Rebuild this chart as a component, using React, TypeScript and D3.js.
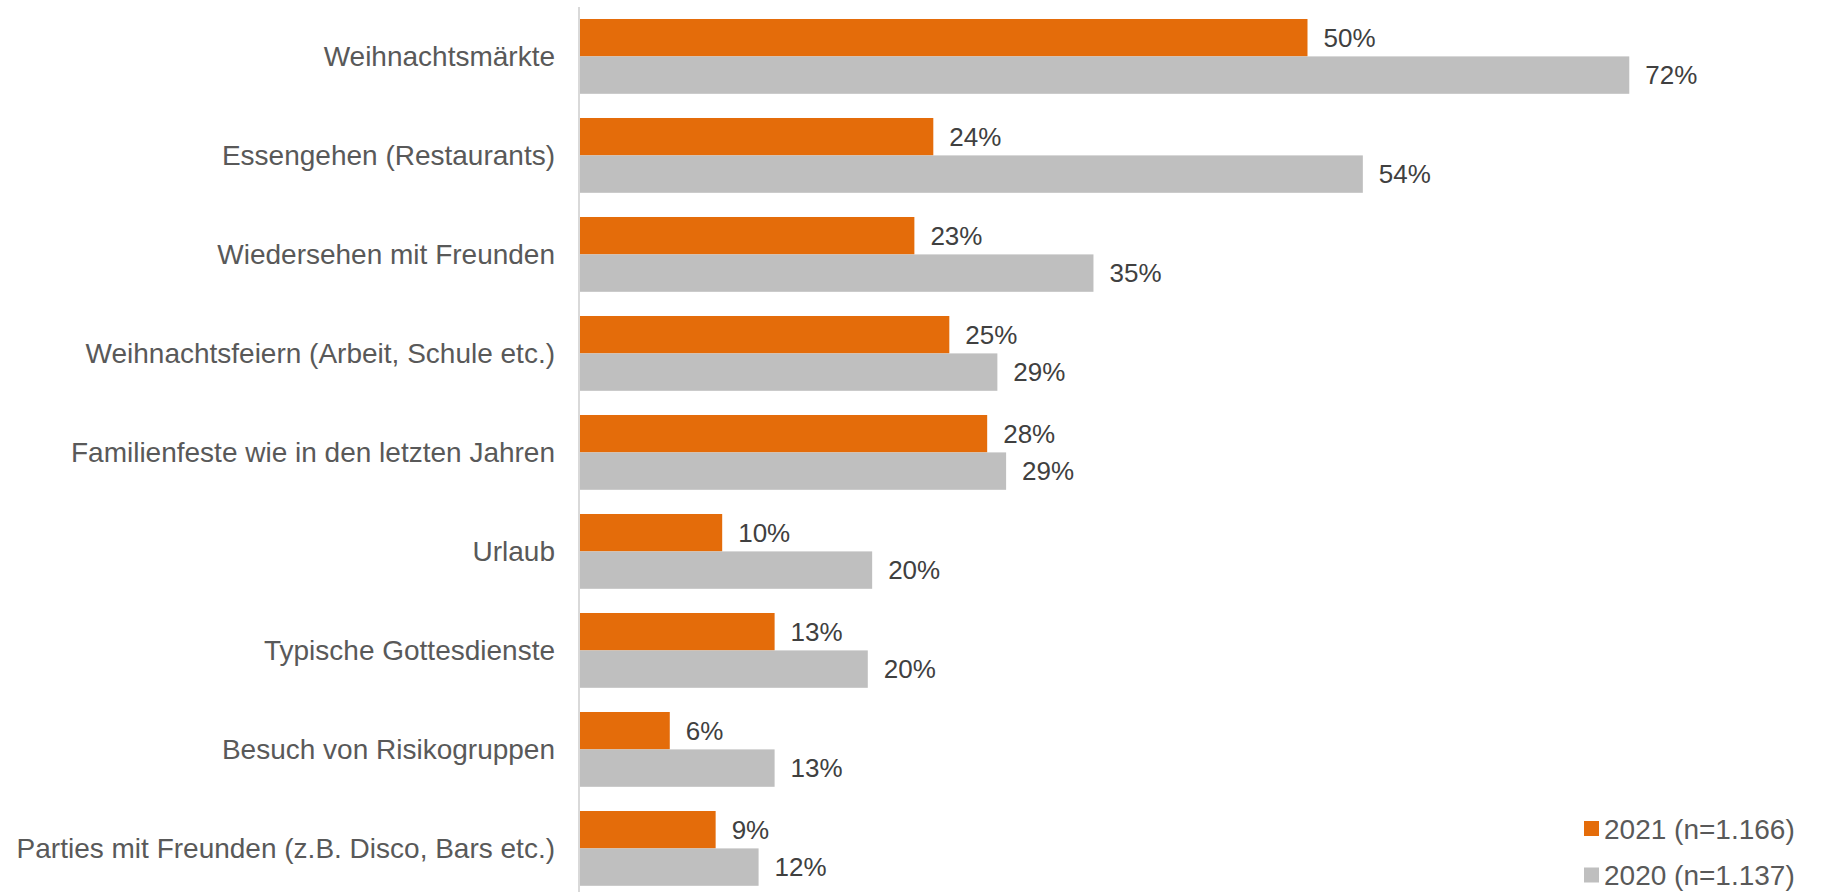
import React from "react";
import * as d3 from "d3";

const categories = [
  "Weihnachtsmärkte",
  "Essengehen (Restaurants)",
  "Wiedersehen mit Freunden",
  "Weihnachtsfeiern (Arbeit, Schule etc.)",
  "Familienfeste wie in den letzten Jahren",
  "Urlaub",
  "Typische Gottesdienste",
  "Besuch von Risikogruppen",
  "Parties mit Freunden (z.B. Disco, Bars etc.)",
];

const values2021 = [50.0, 24.3, 23.0, 25.4, 28.0, 9.8, 13.4, 6.2, 9.35];
const values2020 = [72.1, 53.8, 35.3, 28.7, 29.3, 20.1, 19.8, 13.4, 12.3];

const seriesNames = ["2021 (n=1.166)", "2020 (n=1.137)"];
const seriesKeys = ["2021", "2020"];
const seriesColors = ["#E46C0A", "#BFBFBF"];

const W = 1822;
const H = 892;
const FONT = "'Liberation Sans', Arial, Helvetica, sans-serif";

export default function App() {
  const x = d3.scaleLinear().domain([0, 80]).range([579.5, 579.5 + 80 * 14.56]);
  const y = d3
    .scaleBand<string>()
    .domain(categories)
    .range([6.9, 897.9])
    .paddingInner(0.2444)
    .paddingOuter(0.1222);
  const ySub = d3.scaleBand<string>().domain(seriesKeys).range([0, y.bandwidth()]).padding(0);
  const series = [values2021, values2020];

  return (
    <svg
      width={W}
      height={H}
      style={{ position: "fixed", left: 0, top: 0, background: "#fff" }}
      fontFamily={FONT}
    >
      {categories.map((c, i) => {
        const y0 = y(c)!;
        return (
          <g key={c}>
            {series.map((vals, s) => {
              const by = y0 + ySub(seriesKeys[s])!;
              const bh = ySub.bandwidth();
              const xe = x(vals[i]);
              return (
                <g key={s}>
                  <rect x={x(0)} y={by} width={xe - x(0)} height={bh} fill={seriesColors[s]} />
                  <text
                    x={xe + 16}
                    y={by + bh / 2 + 9.3}
                    fontSize={26}
                    fill="#404040"
                  >
                    {d3.format(".0f")(Math.round(vals[i]))}%
                  </text>
                </g>
              );
            })}
            <text
              x={555}
              y={y0 + y.bandwidth() / 2 + 10}
              fontSize={28}
              textAnchor="end"
              fill="#595959"
            >
              {c}
            </text>
          </g>
        );
      })}
      <line x1={579} x2={579} y1={7} y2={H} stroke="#D9D9D9" strokeWidth={2} />
      {seriesNames.map((n, s) => (
        <g key={n} transform={`translate(1584, ${821 + s * 46.5})`}>
          <rect x={0} y={0} width={15} height={15} fill={seriesColors[s]} />
          <text x={20} y={17.5} fontSize={28} fill="#595959">
            {n}
          </text>
        </g>
      ))}
    </svg>
  );
}
